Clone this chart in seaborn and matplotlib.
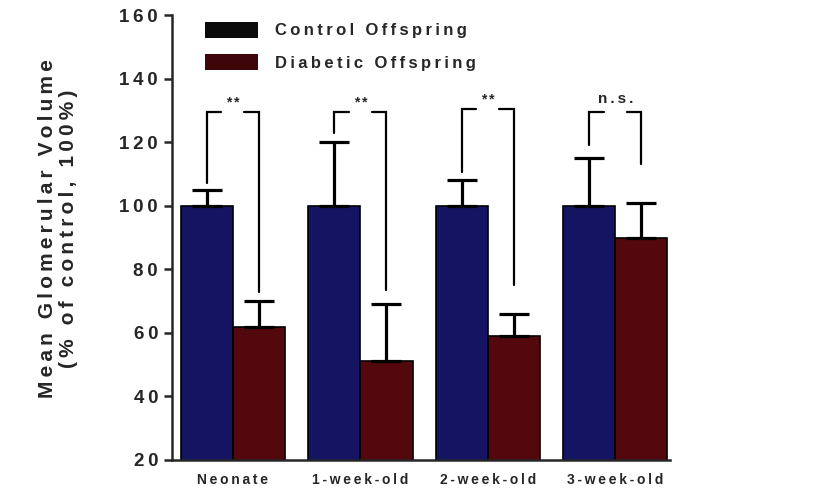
import pandas as pd
import numpy as np
import matplotlib
matplotlib.use('Agg')
import matplotlib.pyplot as plt
import matplotlib.patches as mpatches
import seaborn as sns

# 数据
ages = ['Neonate', '1-week-old', '2-week-old', '3-week-old']
groups = ['Control Offspring', 'Diabetic Offspring']
control_mean = [100, 100, 100, 100]
control_err = [5, 20, 8, 15]
diabetic_mean = [62, 51, 59, 90]
diabetic_err = [8, 18, 7, 11]

# 显著性括号: 顶端, 左脚底, 右脚底, 标注
bracket_top = [129.5, 129.5, 130.5, 129.5]
bracket_left_low = [107, 123, 110.5, 119]
bracket_right_low = [73, 73.5, 75, 113]
sig_labels = ['**', '**', '**', 'n.s.']

c_ctrl = '#141463'
c_diab = '#52080c'

sns.set_style('ticks')
plt.rcParams['font.family'] = ['Liberation Sans', 'DejaVu Sans']
plt.rcParams['font.weight'] = 'bold'


def spaced(s):
    """模拟原图的字母间距"""
    return '\u2009'.join(s)


df = pd.DataFrame({
    'age': ages * 2,
    'group': [groups[0]] * 4 + [groups[1]] * 4,
    'value': control_mean + diabetic_mean,
})

fig = plt.figure(figsize=(8.15, 4.93), dpi=100)
ax = fig.add_axes([172 / 815, 33 / 493, 498 / 815, 445 / 493])

sns.barplot(data=df, x='age', y='value', hue='group', order=ages,
            hue_order=groups, palette=[c_ctrl, c_diab], saturation=1,
            width=0.82, edgecolor='black', linewidth=1.2, errorbar=None,
            legend=False, ax=ax)

# 单侧误差棒
centers = []
for cont, means, errs in zip(ax.containers, [control_mean, diabetic_mean],
                             [control_err, diabetic_err]):
    xs = [b.get_x() + b.get_width() / 2 for b in cont]
    centers.append(xs)
    ax.errorbar(xs, means, yerr=[np.zeros(len(errs)), errs], fmt='none',
                ecolor='black', elinewidth=2.3, capsize=10.5, capthick=2.3,
                zorder=5)

# 显著性括号
tick = 0.115
for i in range(len(ages)):
    xl, xr = centers[0][i], centers[1][i]
    top = bracket_top[i]
    ax.plot([xl, xl, xl + tick], [bracket_left_low[i], top, top],
            color='black', lw=1.6, solid_joinstyle='miter', zorder=6)
    ax.plot([xr - tick, xr, xr], [top, top, bracket_right_low[i]],
            color='black', lw=1.6, solid_joinstyle='miter', zorder=6)
    lab = sig_labels[i]
    if lab == '**':
        ax.text((xl + xr) / 2, top + 2.8, spaced(lab), ha='center',
                va='center', fontsize=10, fontweight='bold')
    else:
        ax.text((xl + xr) / 2, top + 2.0, spaced(lab), ha='center',
                va='bottom', fontsize=11, fontweight='bold')

ax.set_xlim(-0.478, 3.43)
ax.set_ylim(20, 160)
ax.set_yticks(range(20, 161, 20))
ax.set_yticklabels([spaced(str(v)) for v in range(20, 161, 20)],
                   fontsize=13.5, fontweight='bold')
ax.set_xticks(range(len(ages)))
ax.set_xticklabels([spaced(a) for a in ages], fontsize=10,
                   fontweight='bold')
ax.tick_params(axis='y', length=6, width=1.8, pad=4)
ax.tick_params(axis='x', length=0, pad=9)
ax.set_xlabel('')
ax.set_ylabel(spaced('Mean Glomerular Volume') + '\n' +
              spaced('(% of control, 100%)'),
              fontsize=15, fontweight='bold', labelpad=30, linespacing=1.15)
ax.yaxis.label.set_y(0.52)

sns.despine(ax=ax)
for side in ['left', 'bottom']:
    ax.spines[side].set_linewidth(1.8)

# 图例
handles = [mpatches.Patch(facecolor='#0b0b0b', edgecolor='none'),
           mpatches.Patch(facecolor='#3d0609', edgecolor='none')]
ax.legend(handles, [spaced(g) for g in groups], loc='upper left',
          bbox_to_anchor=(0.066, 0.985), frameon=False,
          prop={'size': 12, 'weight': 'bold'}, handlelength=3.2,
          handleheight=1.1, handletextpad=1.0, labelspacing=0.95,
          borderpad=0, borderaxespad=0)

fig.savefig('out.png', dpi=100)
